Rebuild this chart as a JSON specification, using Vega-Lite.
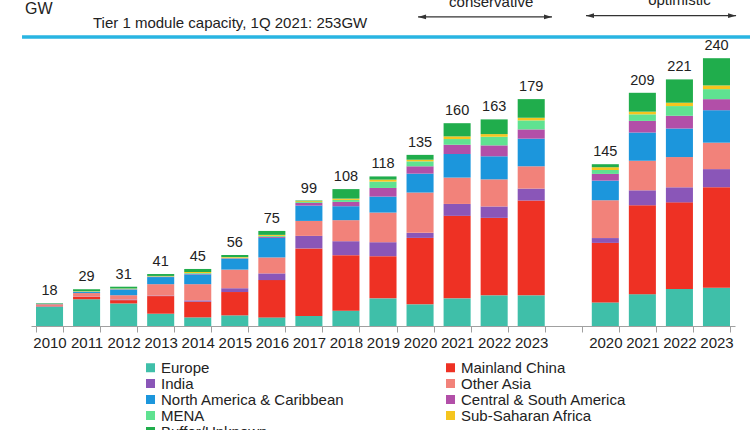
{
  "$schema": "https://vega.github.io/schema/vega-lite/v6.json",
  "autosize": {"type": "none"},
  "width": 704,
  "height": 289,
  "padding": {"left": 31, "top": 37, "right": 15, "bottom": 104},
  "background": "white",
  "config": {
    "font": "Liberation Sans",
    "view": {"stroke": null},
    "axisX": {
      "labelExpr": "datum.label == 'gap' ? '' : slice(datum.label, 0, 4)",
      "tickBand": "extent",
      "labelAngle": 0,
      "labelFontSize": 15,
      "labelColor": "#222",
      "labelPadding": 3,
      "domainColor": "#a0a0a0",
      "tickColor": "#a0a0a0",
      "tickSize": 6,
      "labelFont": "Liberation Sans"
    },
    "legend": {
      "orient": "none",
      "legendX": 112,
      "legendY": 323,
      "columns": 2,
      "columnPadding": 98,
      "symbolType": "square",
      "symbolSize": 81,
      "symbolStrokeWidth": 0,
      "labelFontSize": 15,
      "labelColor": "#222",
      "labelLimit": 300,
      "labelOffset": 3,
      "rowPadding": 0,
      "gridAlign": "each",
      "padding": 0
    }
  },
  "datasets": {
    "bars": [
      {"slot": "2010", "total": 18, "Europe": 15.2, "Mainland China": 0.3, "India": 0.2, "Other Asia": 1.5, "North America & Caribbean": 0.2, "Central & South America": 0.1, "MENA": 0.1, "Sub-Saharan Africa": 0, "Buffer/Unknown": 0.4},
      {"slot": "2011", "total": 29, "Europe": 21.1, "Mainland China": 2.0, "India": 0.2, "Other Asia": 2.7, "North America & Caribbean": 0.8, "Central & South America": 0.2, "MENA": 0.3, "Sub-Saharan Africa": 0.2, "Buffer/Unknown": 1.5},
      {"slot": "2012", "total": 31, "Europe": 17.8, "Mainland China": 2.6, "India": 0.5, "Other Asia": 3.4, "North America & Caribbean": 4.4, "Central & South America": 0.3, "MENA": 0.4, "Sub-Saharan Africa": 0.2, "Buffer/Unknown": 1.4},
      {"slot": "2013", "total": 41, "Europe": 9.7, "Mainland China": 13.9, "India": 0.4, "Other Asia": 9.0, "North America & Caribbean": 5.6, "Central & South America": 0.3, "MENA": 0.3, "Sub-Saharan Africa": 0.3, "Buffer/Unknown": 1.5},
      {"slot": "2014", "total": 45, "Europe": 6.8, "Mainland China": 12.4, "India": 1.0, "Other Asia": 12.8, "North America & Caribbean": 7.7, "Central & South America": 0.5, "MENA": 0.6, "Sub-Saharan Africa": 0.8, "Buffer/Unknown": 2.4},
      {"slot": "2015", "total": 56, "Europe": 8.4, "Mainland China": 18.4, "India": 3.0, "Other Asia": 14.7, "North America & Caribbean": 8.4, "Central & South America": 0.5, "MENA": 0.5, "Sub-Saharan Africa": 0.5, "Buffer/Unknown": 1.6},
      {"slot": "2016", "total": 75, "Europe": 6.8, "Mainland China": 29.4, "India": 5.3, "Other Asia": 12.6, "North America & Caribbean": 15.4, "Central & South America": 0.8, "MENA": 0.8, "Sub-Saharan Africa": 0.8, "Buffer/Unknown": 3.1},
      {"slot": "2017", "total": 99, "Europe": 7.9, "Mainland China": 53.3, "India": 9.9, "Other Asia": 11.8, "North America & Caribbean": 12.1, "Central & South America": 2.1, "MENA": 0.7, "Sub-Saharan Africa": 0.7, "Buffer/Unknown": 0.5},
      {"slot": "2018", "total": 108, "Europe": 12.1, "Mainland China": 43.8, "India": 11.0, "Other Asia": 16.6, "North America & Caribbean": 11.0, "Central & South America": 3.4, "MENA": 1.6, "Sub-Saharan Africa": 1.0, "Buffer/Unknown": 7.5},
      {"slot": "2019", "total": 118, "Europe": 21.8, "Mainland China": 33.3, "India": 11.0, "Other Asia": 23.4, "North America & Caribbean": 12.6, "Central & South America": 6.8, "MENA": 5.0, "Sub-Saharan Africa": 1.6, "Buffer/Unknown": 2.5},
      {"slot": "2020", "total": 135, "Europe": 17.1, "Mainland China": 52.4, "India": 4.0, "Other Asia": 31.8, "North America & Caribbean": 14.9, "Central & South America": 5.8, "MENA": 3.9, "Sub-Saharan Africa": 1.3, "Buffer/Unknown": 3.8},
      {"slot": "2021", "total": 160, "Europe": 21.8, "Mainland China": 65.1, "India": 9.4, "Other Asia": 20.8, "North America & Caribbean": 18.6, "Central & South America": 7.3, "MENA": 4.5, "Sub-Saharan Africa": 2.1, "Buffer/Unknown": 10.4},
      {"slot": "2022", "total": 163, "Europe": 24.2, "Mainland China": 61.1, "India": 9.0, "Other Asia": 21.4, "North America & Caribbean": 18.2, "Central & South America": 8.6, "MENA": 6.8, "Sub-Saharan Africa": 2.1, "Buffer/Unknown": 11.6},
      {"slot": "2023", "total": 179, "Europe": 24.2, "Mainland China": 74.8, "India": 9.4, "Other Asia": 17.6, "North America & Caribbean": 21.8, "Central & South America": 7.3, "MENA": 7.1, "Sub-Saharan Africa": 2.1, "Buffer/Unknown": 14.7},
      {"slot": "2020 opt", "total": 145, "Europe": 21.1, "Mainland China": 53.4, "India": 4.3, "Other Asia": 33.9, "North America & Caribbean": 17.6, "Central & South America": 6.0, "MENA": 3.5, "Sub-Saharan Africa": 2.5, "Buffer/Unknown": 2.7},
      {"slot": "2021 opt", "total": 209, "Europe": 28.5, "Mainland China": 79.7, "India": 13.4, "Other Asia": 26.5, "North America & Caribbean": 25.3, "Central & South America": 10.4, "MENA": 5.9, "Sub-Saharan Africa": 2.4, "Buffer/Unknown": 16.9},
      {"slot": "2022 opt", "total": 221, "Europe": 33.1, "Mainland China": 77.7, "India": 13.5, "Other Asia": 27.1, "North America & Caribbean": 25.6, "Central & South America": 11.4, "MENA": 8.7, "Sub-Saharan Africa": 3.0, "Buffer/Unknown": 20.9},
      {"slot": "2023 opt", "total": 240, "Europe": 34.2, "Mainland China": 90.2, "India": 16.2, "Other Asia": 23.7, "North America & Caribbean": 29.1, "Central & South America": 9.9, "MENA": 9.0, "Sub-Saharan Africa": 3.3, "Buffer/Unknown": 24.4}
    ]
  },
  "layer": [
    {
      "layer": [
        {
          "data": {"name": "bars"},
          "transform": [
            {"filter": "indexof(datum.slot, 'opt') < 0"},
            {"fold": ["Europe", "Mainland China", "India", "Other Asia", "North America & Caribbean", "Central & South America", "MENA", "Sub-Saharan Africa", "Buffer/Unknown"], "as": ["region", "gw"]},
            {"calculate": "indexof(['Europe', 'Mainland China', 'India', 'Other Asia', 'North America & Caribbean', 'Central & South America', 'MENA', 'Sub-Saharan Africa', 'Buffer/Unknown'], datum.region)", "as": "k"}
          ],
          "mark": {"type": "bar"},
          "encoding": {
            "x": {"field": "slot", "type": "nominal", "scale": {"domain": ["2010","2011","2012","2013","2014","2015","2016","2017","2018","2019","2020","2021","2022","2023","gap","2020 opt","2021 opt","2022 opt","2023 opt"], "paddingInner": 0.27, "paddingOuter": 0.135}, "axis": {"title": null}},
            "y": {"field": "gw", "type": "quantitative", "stack": "zero", "scale": {"domain": [0, 228], "nice": false}, "axis": null},
            "color": {"field": "region", "type": "nominal", "scale": {"domain": ["Europe", "India", "North America & Caribbean", "MENA", "Buffer/Unknown", "Mainland China", "Other Asia", "Central & South America", "Sub-Saharan Africa"], "range": ["#3fbfa9", "#8a56b8", "#1c96dc", "#5fe291", "#20ad4c", "#ee3124", "#f2827a", "#b24fa8", "#f5c51f"]}, "legend": {"title": null}},
            "order": {"field": "k", "type": "quantitative"}
          }
        },
        {
          "data": {"name": "bars"},
          "transform": [{"filter": "indexof(datum.slot, 'opt') < 0"}],
          "mark": {"type": "text", "baseline": "alphabetic", "dy": -8, "fontSize": 14.5, "color": "#222"},
          "encoding": {
            "x": {"field": "slot", "type": "nominal", "scale": {"domain": ["2010","2011","2012","2013","2014","2015","2016","2017","2018","2019","2020","2021","2022","2023","gap","2020 opt","2021 opt","2022 opt","2023 opt"], "paddingInner": 0.27, "paddingOuter": 0.135}, "axis": {"title": null}},
            "y": {"field": "total", "type": "quantitative", "scale": {"domain": [0, 228], "nice": false}, "axis": null},
            "text": {"field": "total", "type": "quantitative"}
          }
        },
        {
          "data": {"values": [{}]},
          "mark": {"type": "rule", "color": "#29b5e2", "strokeWidth": 3.5, "xOffset": -27.5, "x2Offset": 33.6},
          "encoding": {
            "x": {"datum": "2010", "type": "nominal", "scale": {"domain": ["2010","2011","2012","2013","2014","2015","2016","2017","2018","2019","2020","2021","2022","2023","gap","2020 opt","2021 opt","2022 opt","2023 opt"], "paddingInner": 0.27, "paddingOuter": 0.135}},
            "x2": {"datum": "2023 opt"},
            "y": {"datum": 228, "type": "quantitative", "scale": {"domain": [0, 228], "nice": false}, "axis": null}
          }
        },
        {
          "data": {"values": [{}]},
          "mark": {"type": "text", "text": "GW", "align": "left", "baseline": "alphabetic", "fontSize": 16, "dx": -24.5, "color": "#222"},
          "encoding": {
            "x": {"datum": "2010", "type": "nominal", "scale": {"domain": ["2010","2011","2012","2013","2014","2015","2016","2017","2018","2019","2020","2021","2022","2023","gap","2020 opt","2021 opt","2022 opt","2023 opt"], "paddingInner": 0.27, "paddingOuter": 0.135}},
            "y": {"datum": 246.2, "type": "quantitative", "scale": {"domain": [0, 228], "nice": false}, "axis": null}
          }
        },
        {
          "data": {"values": [{}]},
          "mark": {"type": "text", "text": "Tier 1 module capacity, 1Q 2021: 253GW", "align": "left", "baseline": "alphabetic", "fontSize": 15, "dx": 6.4, "color": "#222"},
          "encoding": {
            "x": {"datum": "2011", "type": "nominal", "scale": {"domain": ["2010","2011","2012","2013","2014","2015","2016","2017","2018","2019","2020","2021","2022","2023","gap","2020 opt","2021 opt","2022 opt","2023 opt"], "paddingInner": 0.27, "paddingOuter": 0.135}},
            "y": {"datum": 235.1, "type": "quantitative", "scale": {"domain": [0, 228], "nice": false}, "axis": null}
          }
        },
        {
          "data": {"values": [{}]},
          "mark": {"type": "text", "text": "conservative", "align": "center", "baseline": "alphabetic", "fontSize": 15, "dx": -3, "color": "#222"},
          "encoding": {
            "x": {"datum": "2022", "type": "nominal", "scale": {"domain": ["2010","2011","2012","2013","2014","2015","2016","2017","2018","2019","2020","2021","2022","2023","gap","2020 opt","2021 opt","2022 opt","2023 opt"], "paddingInner": 0.27, "paddingOuter": 0.135}},
            "y": {"datum": 251.7, "type": "quantitative", "scale": {"domain": [0, 228], "nice": false}, "axis": null}
          }
        },
        {
          "data": {"values": [{}]},
          "mark": {"type": "rule", "color": "#333", "strokeWidth": 1.3, "xOffset": -2, "x2Offset": 20.8},
          "encoding": {
            "x": {"datum": "2020", "type": "nominal", "scale": {"domain": ["2010","2011","2012","2013","2014","2015","2016","2017","2018","2019","2020","2021","2022","2023","gap","2020 opt","2021 opt","2022 opt","2023 opt"], "paddingInner": 0.27, "paddingOuter": 0.135}},
            "x2": {"datum": "2023"},
            "y": {"datum": 243.8, "type": "quantitative", "scale": {"domain": [0, 228], "nice": false}, "axis": null}
          }
        },
        {
          "data": {"values": [{}]},
          "mark": {"type": "point", "shape": "M-1,0L1,-0.6L1,0.6Z", "filled": true, "size": 64, "color": "#333", "opacity": 1, "strokeWidth": 0, "xOffset": 2},
          "encoding": {
            "x": {"datum": "2020", "type": "nominal", "scale": {"domain": ["2010","2011","2012","2013","2014","2015","2016","2017","2018","2019","2020","2021","2022","2023","gap","2020 opt","2021 opt","2022 opt","2023 opt"], "paddingInner": 0.27, "paddingOuter": 0.135}},
            "y": {"datum": 243.8, "type": "quantitative", "scale": {"domain": [0, 228], "nice": false}, "axis": null}
          }
        },
        {
          "data": {"values": [{}]},
          "mark": {"type": "point", "shape": "M1,0L-1,-0.6L-1,0.6Z", "filled": true, "size": 64, "color": "#333", "opacity": 1, "strokeWidth": 0, "xOffset": 16.8},
          "encoding": {
            "x": {"datum": "2023", "type": "nominal", "scale": {"domain": ["2010","2011","2012","2013","2014","2015","2016","2017","2018","2019","2020","2021","2022","2023","gap","2020 opt","2021 opt","2022 opt","2023 opt"], "paddingInner": 0.27, "paddingOuter": 0.135}},
            "y": {"datum": 243.8, "type": "quantitative", "scale": {"domain": [0, 228], "nice": false}, "axis": null}
          }
        }
      ]
    },
    {
      "layer": [
        {
          "data": {"name": "bars"},
          "transform": [
            {"filter": "indexof(datum.slot, 'opt') >= 0"},
            {"fold": ["Europe", "Mainland China", "India", "Other Asia", "North America & Caribbean", "Central & South America", "MENA", "Sub-Saharan Africa", "Buffer/Unknown"], "as": ["region", "gw"]},
            {"calculate": "indexof(['Europe', 'Mainland China', 'India', 'Other Asia', 'North America & Caribbean', 'Central & South America', 'MENA', 'Sub-Saharan Africa', 'Buffer/Unknown'], datum.region)", "as": "k"}
          ],
          "mark": {"type": "bar"},
          "encoding": {
            "x": {"field": "slot", "type": "nominal", "scale": {"domain": ["2010","2011","2012","2013","2014","2015","2016","2017","2018","2019","2020","2021","2022","2023","gap","2020 opt","2021 opt","2022 opt","2023 opt"], "paddingInner": 0.27, "paddingOuter": 0.135}, "axis": {"title": null}},
            "y": {"field": "gw", "type": "quantitative", "stack": "zero", "scale": {"domain": [0, 259], "nice": false}, "axis": null},
            "color": {"field": "region", "type": "nominal", "scale": {"domain": ["Europe", "India", "North America & Caribbean", "MENA", "Buffer/Unknown", "Mainland China", "Other Asia", "Central & South America", "Sub-Saharan Africa"], "range": ["#3fbfa9", "#8a56b8", "#1c96dc", "#5fe291", "#20ad4c", "#ee3124", "#f2827a", "#b24fa8", "#f5c51f"]}, "legend": {"title": null}},
            "order": {"field": "k", "type": "quantitative"}
          }
        },
        {
          "data": {"name": "bars"},
          "transform": [{"filter": "indexof(datum.slot, 'opt') >= 0"}],
          "mark": {"type": "text", "baseline": "alphabetic", "dy": -8, "fontSize": 14.5, "color": "#222"},
          "encoding": {
            "x": {"field": "slot", "type": "nominal", "scale": {"domain": ["2010","2011","2012","2013","2014","2015","2016","2017","2018","2019","2020","2021","2022","2023","gap","2020 opt","2021 opt","2022 opt","2023 opt"], "paddingInner": 0.27, "paddingOuter": 0.135}, "axis": {"title": null}},
            "y": {"field": "total", "type": "quantitative", "scale": {"domain": [0, 259], "nice": false}, "axis": null},
            "text": {"field": "total", "type": "quantitative"}
          }
        },
        {
          "data": {"values": [{}]},
          "mark": {"type": "text", "text": "optimistic", "align": "center", "baseline": "alphabetic", "fontSize": 15, "color": "#222"},
          "encoding": {
            "x": {"datum": "2022 opt", "type": "nominal", "scale": {"domain": ["2010","2011","2012","2013","2014","2015","2016","2017","2018","2019","2020","2021","2022","2023","gap","2020 opt","2021 opt","2022 opt","2023 opt"], "paddingInner": 0.27, "paddingOuter": 0.135}},
            "y": {"datum": 287.7, "type": "quantitative", "scale": {"domain": [0, 259], "nice": false}, "axis": null}
          }
        },
        {
          "data": {"values": [{}]},
          "mark": {"type": "rule", "color": "#333", "strokeWidth": 1.3, "xOffset": -19.3, "x2Offset": 19.6},
          "encoding": {
            "x": {"datum": "2020 opt", "type": "nominal", "scale": {"domain": ["2010","2011","2012","2013","2014","2015","2016","2017","2018","2019","2020","2021","2022","2023","gap","2020 opt","2021 opt","2022 opt","2023 opt"], "paddingInner": 0.27, "paddingOuter": 0.135}},
            "x2": {"datum": "2023 opt"},
            "y": {"datum": 278.1, "type": "quantitative", "scale": {"domain": [0, 259], "nice": false}, "axis": null}
          }
        },
        {
          "data": {"values": [{}]},
          "mark": {"type": "point", "shape": "M-1,0L1,-0.6L1,0.6Z", "filled": true, "size": 64, "color": "#333", "opacity": 1, "strokeWidth": 0, "xOffset": -15.3},
          "encoding": {
            "x": {"datum": "2020 opt", "type": "nominal", "scale": {"domain": ["2010","2011","2012","2013","2014","2015","2016","2017","2018","2019","2020","2021","2022","2023","gap","2020 opt","2021 opt","2022 opt","2023 opt"], "paddingInner": 0.27, "paddingOuter": 0.135}},
            "y": {"datum": 278.1, "type": "quantitative", "scale": {"domain": [0, 259], "nice": false}, "axis": null}
          }
        },
        {
          "data": {"values": [{}]},
          "mark": {"type": "point", "shape": "M1,0L-1,-0.6L-1,0.6Z", "filled": true, "size": 64, "color": "#333", "opacity": 1, "strokeWidth": 0, "xOffset": 15.6},
          "encoding": {
            "x": {"datum": "2023 opt", "type": "nominal", "scale": {"domain": ["2010","2011","2012","2013","2014","2015","2016","2017","2018","2019","2020","2021","2022","2023","gap","2020 opt","2021 opt","2022 opt","2023 opt"], "paddingInner": 0.27, "paddingOuter": 0.135}},
            "y": {"datum": 278.1, "type": "quantitative", "scale": {"domain": [0, 259], "nice": false}, "axis": null}
          }
        }
      ]
    }
  ],
  "resolve": {"scale": {"y": "independent"}}
}
